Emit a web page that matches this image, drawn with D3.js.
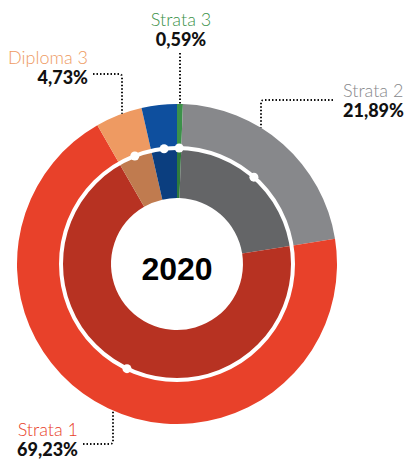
<!DOCTYPE html>
<html>
<head>
<meta charset="utf-8">
<script src="https://cdn.jsdelivr.net/npm/d3@7"></script>
<style>
  html, body { margin: 0; padding: 0; background: #fff; }
  svg { display: block; }
</style>
</head>
<body>
<script>
// data
const categories = ['Strata 3', 'Strata 2', 'Strata 1', 'Diploma 3', 'Lainnya'];
const values = [0.59, 21.89, 69.23, 4.73, 3.56];
const outerColours = ['#3b9149', '#87888b', '#e8412a', '#ee9a62', '#0e4f9e'];
const innerColours = ['#2f7b3c', '#646567', '#b73222', '#c07b4f', '#0b3e7f'];
const year = '2020';
const labelled = ['Strata 3', 'Strata 2', 'Strata 1', 'Diploma 3'];

let width = 406, height = 459;
let cx = 177, cy = 264;
let rOuter = 160, rMid = 116, rHole = 66;

let svg = d3.select('body').append('svg')
  .attr('width', width)
  .attr('height', height);

let g = svg.append('g').attr('transform', `translate(${cx},${cy})`);

let pie = d3.pie().sort(null).value((d) => d.value);
let slices = pie(categories.map((c, i) => ({ name: c, value: values[i], i: i })));

let outerArc = d3.arc().innerRadius(rMid).outerRadius(rOuter);
let innerArc = d3.arc().innerRadius(rHole).outerRadius(rMid);

g.selectAll('path.outer')
  .data(slices)
  .enter().append('path')
  .attr('class', 'outer')
  .attr('d', outerArc)
  .attr('fill', (d) => outerColours[d.data.i]);

g.selectAll('path.inner')
  .data(slices)
  .enter().append('path')
  .attr('class', 'inner')
  .attr('d', innerArc)
  .attr('fill', (d) => innerColours[d.data.i]);

// white ring between the two donuts
g.append('circle')
  .attr('r', rMid)
  .attr('fill', 'none')
  .attr('stroke', '#fff')
  .attr('stroke-width', 4);

// dots on the white ring at each slice's middle
g.selectAll('circle.dot')
  .data(slices)
  .enter().append('circle')
  .attr('class', 'dot')
  .attr('cx', (d) => rMid * Math.sin((d.startAngle + d.endAngle) / 2))
  .attr('cy', (d) => -rMid * Math.cos((d.startAngle + d.endAngle) / 2))
  .attr('r', 4.5)
  .attr('fill', '#fff');

g.append('text')
  .attr('x', 0)
  .attr('y', 4)
  .attr('dy', '0.36em')
  .attr('text-anchor', 'middle')
  .attr('font-family', '"Liberation Sans", Arial, sans-serif')
  .attr('font-weight', 'bold')
  .attr('font-size', 32)
  .attr('fill', '#000')
  .text(year);

// labels and leader lines (layout only)
let labelLayout = {
  'Strata 3': { x: 181, y: 26, anchor: 'middle', line: [[180, 53]], vx: 180 },
  'Diploma 3': { x: 88, y: 64, anchor: 'end', line: [[93, 74], [122, 74]], vx: 122 },
  'Strata 2': { x: 343, y: 97, anchor: 'start', line: [[333, 100], [261, 100]], vx: 261 },
  'Strata 1': { x: 78, y: 436, anchor: 'end', line: [[83, 444], [113, 444]], vx: 113, bottom: true },
};

let fmt = (v) => v.toFixed(2).replace('.', ',') + '%';

slices.filter((d) => labelled.includes(d.data.name)).forEach((d) => {
  let lay = labelLayout[d.data.name];
  let dx = lay.vx - cx;
  let ry = Math.sqrt(rOuter * rOuter - dx * dx);
  let endY = lay.bottom ? cy + ry : cy - ry;
  let pts = lay.line.concat([[lay.vx, endY]]);

  let path;
  if (pts.length === 2) {
    path = d3.line()(pts);
  } else {
    // elbow with a rounded corner
    let [a, b, c] = pts;
    let rc = 3;
    let sx = Math.sign(b[0] - a[0]), sy = Math.sign(c[1] - b[1]);
    path = `M${a[0]},${a[1]} L${b[0] - sx * rc},${b[1]} Q${b[0]},${b[1]} ${b[0]},${b[1] + sy * rc} L${c[0]},${c[1]}`;
  }
  svg.append('path')
    .attr('d', path)
    .attr('fill', 'none')
    .attr('stroke', '#111')
    .attr('stroke-width', 2)
    .attr('stroke-dasharray', '1.5,2');

  svg.append('text')
    .attr('x', lay.x)
    .attr('y', lay.y)
    .attr('text-anchor', lay.anchor)
    .attr('font-family', 'Lato, "Open Sans", sans-serif')
    .attr('font-weight', 300)
    .attr('font-size', 18)
    .attr('fill', outerColours[d.data.i])
    .text(d.data.name);

  svg.append('text')
    .attr('x', lay.x)
    .attr('y', lay.y + 20)
    .attr('text-anchor', lay.anchor)
    .attr('font-family', 'Lato, "Open Sans", sans-serif')
    .attr('font-weight', 900)
    .attr('font-size', 18)
    .attr('fill', '#111')
    .text(fmt(d.data.value));
});
</script>
</body>
</html>
